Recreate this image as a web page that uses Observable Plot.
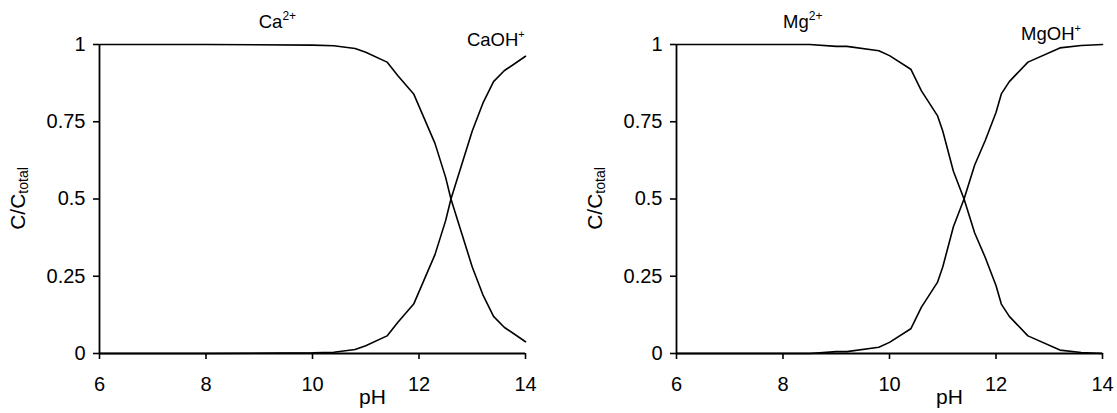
<!DOCTYPE html>
<html><head><meta charset="utf-8">
<script src="https://cdn.jsdelivr.net/npm/d3@7"></script>
<script src="https://cdn.jsdelivr.net/npm/@observablehq/plot@0.6"></script>
<style>
body{margin:0;background:#fff;}
#wrap{position:relative;width:1117px;height:413px;overflow:hidden;}
#wrap svg{position:absolute;top:0;}
</style></head><body><div id="wrap"></div>
<script>
// Calcium speciation
const caPH  = [6, 8, 10, 10.4, 10.8, 11.0, 11.4, 11.6, 11.9, 12.1, 12.3, 12.5, 12.6, 12.8, 13.0, 13.2, 13.4, 13.6, 14.0];
const caIon = [1, 1, 0.998, 0.996, 0.987, 0.975, 0.943, 0.90, 0.84, 0.76, 0.68, 0.57, 0.50, 0.39, 0.28, 0.19, 0.12, 0.085, 0.038];
const caOH  = [0, 0, 0.002, 0.004, 0.013, 0.025, 0.057, 0.10, 0.16, 0.24, 0.32, 0.43, 0.50, 0.61, 0.72, 0.81, 0.88, 0.915, 0.962];
// Magnesium speciation
const mgPH  = [6, 8, 8.5, 9.0, 9.2, 9.8, 10.0, 10.4, 10.6, 10.9, 11.0, 11.2, 11.4, 11.6, 11.8, 12.0, 12.1, 12.25, 12.6, 13.2, 13.6, 14.0];
const mgIon = [1, 1, 1, 0.994, 0.994, 0.98, 0.964, 0.92, 0.85, 0.77, 0.72, 0.59, 0.50, 0.39, 0.31, 0.22, 0.16, 0.12, 0.057, 0.011, 0.003, 0];
const mgOH  = [0, 0, 0, 0.006, 0.006, 0.02, 0.036, 0.08, 0.15, 0.23, 0.28, 0.41, 0.50, 0.61, 0.69, 0.78, 0.84, 0.88, 0.943, 0.989, 0.997, 1.0];
// Axes
const xTicks = [6, 8, 10, 12, 14];
const yTicks = [0, 0.25, 0.5, 0.75, 1];
const xTitle = "pH";
// Species labels: [main, superscript, pH anchor, value anchor]
const caLabels = [["Ca", "2+", 9.0, 1.052], ["CaOH", "+", 12.91, 0.993]];
const mgLabels = [["Mg", "2+", 8.01, 1.052], ["MgOH", "+", 12.48, 1.013]];

const FONT = "'Liberation Sans', Arial, Helvetica, sans-serif";

function panel(phs, ion, oh, labels, width, mL, mR, left) {
  const rows = phs.map((p, i) => ({pH: p, ion: ion[i], oh: oh[i]}));
  const chart = Plot.plot({
    width, height: 413,
    marginLeft: mL, marginRight: mR, marginTop: 44, marginBottom: 60,
    x: {domain: [6, 14]},
    y: {domain: [0, 1]},
    style: {fontFamily: FONT, fontSize: "20px", color: "#000", background: "transparent", overflow: "visible"},
    marks: [
      Plot.axisX({ticks: xTicks, tickSize: 6, tickPadding: 17, label: null, strokeWidth: 1.6, tickFormat: d => String(d)}),
      Plot.axisY({ticks: yTicks, tickSize: 6, tickPadding: 8, label: null, strokeWidth: 1.6, tickFormat: d => String(d)}),
      Plot.ruleY([0], {strokeWidth: 1.8}),
      Plot.ruleX([6], {strokeWidth: 1.8}),
      Plot.line(rows, {x: "pH", y: "ion", stroke: "#000", strokeWidth: 1.6}),
      Plot.line(rows, {x: "pH", y: "oh", stroke: "#000", strokeWidth: 1.6}),
      Plot.text([xTitle], {text: d => d, frameAnchor: "bottom", dx: 60, dy: 50, fontSize: 21})
    ]
  });
  const svg = d3.select(chart);
  svg.style("left", left + "px");
  const xs = chart.scale("x"), ys = chart.scale("y");
  // y title with subscript
  const cy = ys.apply(0.5), cx = xs.apply(6) - 80;
  const t = svg.append("text")
    .attr("transform", `translate(${cx},${cy}) rotate(-90)`)
    .attr("text-anchor", "middle")
    .attr("dominant-baseline", "middle")
    .attr("font-family", FONT).attr("font-size", 21).attr("fill", "#000");
  t.append("tspan").text("C/C");
  t.append("tspan").attr("font-size", 14).attr("dy", 5).text("total");
  // species labels
  for (const [main, sup, px, py] of labels) {
    const lt = svg.append("text")
      .attr("x", xs.apply(px)).attr("y", ys.apply(py))
      .attr("text-anchor", "start")
      .attr("font-family", FONT).attr("font-size", 18.5).attr("fill", "#000");
    lt.append("tspan").text(main);
    lt.append("tspan").attr("font-size", sup === "+" ? 11 : 12).attr("dy", -8).text(sup);
  }
  return chart;
}

const wrap = document.getElementById("wrap");
wrap.appendChild(panel(caPH, caIon, caOH, caLabels, 558, 99, 33, 0));
wrap.appendChild(panel(mgPH, mgIon, mgOH, mgLabels, 559, 118, 15, 558));
</script></body></html>
